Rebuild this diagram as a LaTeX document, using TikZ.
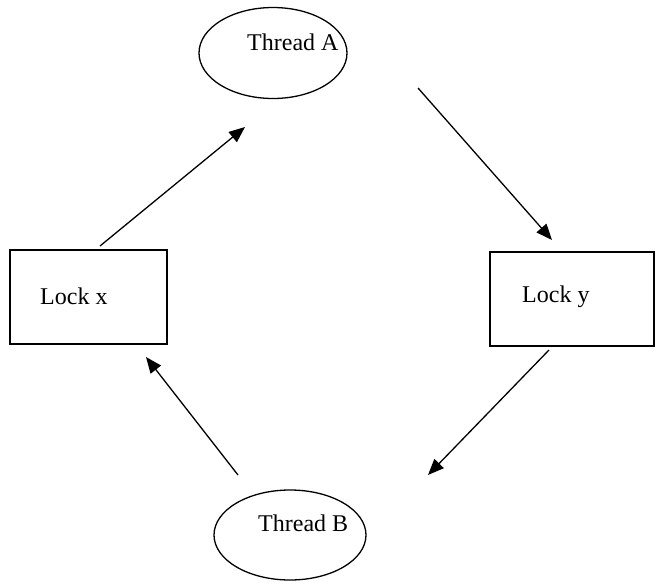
\documentclass[tikz,border=0pt]{standalone}
\usepackage{fontspec}
\setmainfont{Liberation Serif}
\usetikzlibrary{shapes.geometric,arrows.meta}
\begin{document}
\begin{tikzpicture}[x=1pt,y=-1pt,
  shapeline/.style={draw=black,line width=1.3pt},
  thread/.style={shapeline,ellipse,inner sep=0pt},
  lockbox/.style={shapeline,rectangle,inner sep=0pt},
  lbl/.style={anchor=base west,inner sep=0pt,font=\fontsize{24}{28}\selectfont},
  conn/.style={line width=1.3pt,-{Triangle[length=16pt,width=13pt]}}]
\useasboundingbox (0,0) rectangle (656,584);
% shapes
\node[thread,minimum width=148pt,minimum height=91pt] (ta) at (273,53) {};
\node[thread,minimum width=152pt,minimum height=90pt] (tb) at (290,535) {};
\node[lockbox,minimum width=157pt,minimum height=94pt] (lx) at (88.5,297) {};
\node[lockbox,minimum width=164pt,minimum height=94pt] (ly) at (572,299) {};
% labels
\node[lbl] (tat) at (247,50) {Thread A};
\node[lbl] (tbt) at (258,531) {Thread B};
\node[lbl] (lxt) at (40,304) {Lock x};
\node[lbl] (lyt) at (522,302) {Lock y};
% connector end points
\coordinate (a1s) at (100,246);
\coordinate (a1e) at (245,127);
\coordinate (a2s) at (418,88);
\coordinate (a2e) at (552,240);
\coordinate (a3s) at (549,350);
\coordinate (a3e) at (428,475);
\coordinate (a4s) at (238,475);
\coordinate (a4e) at (146,357);
\draw[conn] (a1s) -- (a1e);
\draw[conn] (a2s) -- (a2e);
\draw[conn] (a3s) -- (a3e);
\draw[conn] (a4s) -- (a4e);
\end{tikzpicture}
\end{document}
